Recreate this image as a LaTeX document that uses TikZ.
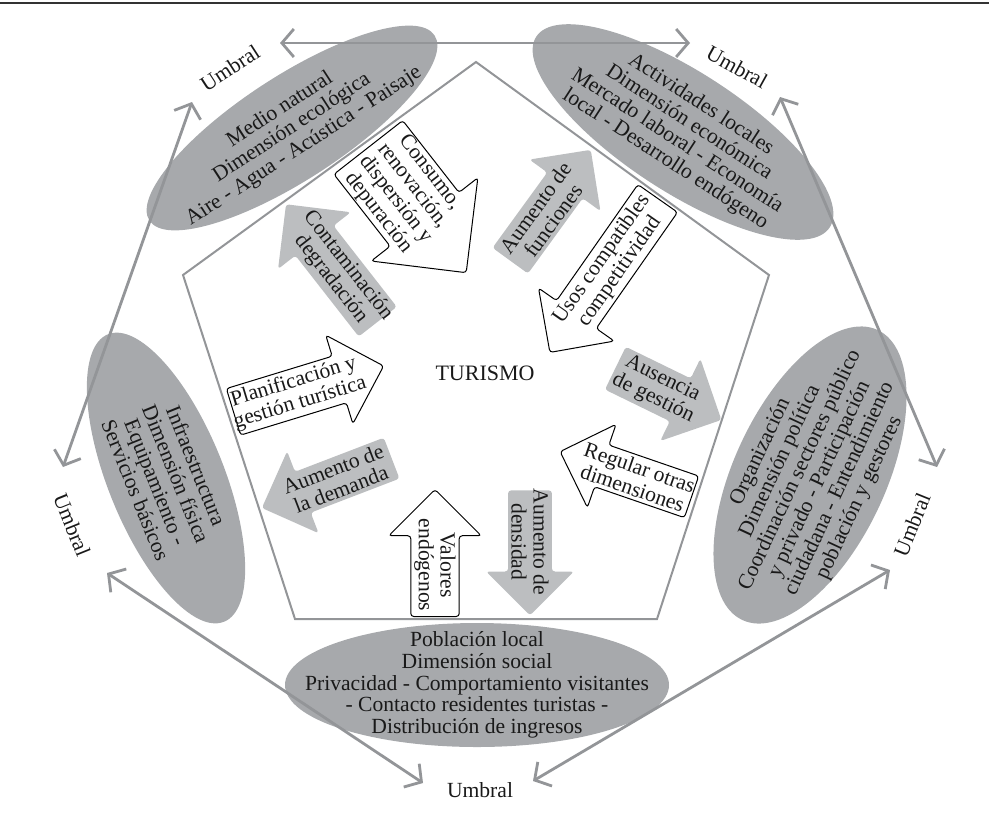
\documentclass[tikz,border=0pt]{standalone}
\usepackage{fontspec}
\setmainfont{Liberation Serif}
\usetikzlibrary{shapes.geometric,shapes.arrows,arrows.meta}
\definecolor{elgray}{HTML}{A7A9AC}
\definecolor{argray}{HTML}{BCBEC0}
\definecolor{lngray}{HTML}{939598}
\begin{document}
\begin{tikzpicture}[x=0.5pt,y=-0.5pt,
  txt/.style={font=\fontsize{10.8}{10.9}\selectfont, text=black!90},
  dim/.style={txt, ellipse, fill=elgray, align=center, inner xsep=-30pt, inner ysep=-14pt},
  flow/.style={txt, single arrow, single arrow head extend=11pt, rounded corners=1.5pt,
    align=center, anchor=tail, inner ysep=1.5pt, inner xsep=-2pt},
  answer/.style={flow, draw=black, line width=0.5pt, fill=white},
  impact/.style={flow, fill=argray},
  rev/.style={shape border rotate=180},
  lim/.style={draw=lngray, line width=1.4pt,
    {Straight Barb[length=6pt,width=14pt]}-{Straight Barb[length=6pt,width=14pt]}}
]
\useasboundingbox (0,0) rectangle (989,814);
\draw[line width=1pt, black!80] (0,3) -- (989,3);

% dimensiones
\node[dim, rotate=33, minimum width=170pt, minimum height=52pt] (nat) at (292,128)
  {Medio natural\\Dimensión ecológica\\Aire - Agua - Acústica - Paisaje};
\node[dim, rotate=-33, minimum width=175pt, minimum height=60pt] (act) at (683,132)
  {Actividades locales\\Dimensión económica\\Mercado laboral - Economía\\local - Desarrollo endógeno};
\node[dim, rotate=-68, minimum width=155pt, minimum height=58pt] (inf) at (166,478)
  {Infraestructura\\Dimensión física\\Equipamiento -\\Servicios básicos};
\node[dim, rotate=65, minimum width=160pt, minimum height=76pt] (org) at (810,475)
  {Organización\\Dimensión política\\Coordinación sectores público\\y privado - Participación\\ciudadana - Entendimiento\\población y gestores};
\node[dim, minimum width=192pt, minimum height=62pt] (pob) at (477,685)
  {Población local\\Dimensión social\\Privacidad - Comportamiento visitantes\\- Contacto residentes turistas -\\Distribución de ingresos};

% pentagono
\draw[draw=lngray, line width=1pt] (476,62) -- (769,275) -- (657,619) -- (295,619) -- (183,275) -- cycle;

% umbrales
\node[txt, rotate=33] (u1) at (230,68) {Umbral};
\node[txt, rotate=-29] (u2) at (737,67) {Umbral};
\node[txt, rotate=68] (u3) at (912,525) {Umbral};
\node[txt] (u4) at (480,790) {Umbral};
\node[txt, rotate=-68] (u5) at (72,525) {Umbral};

\coordinate (a1) at (280,43);  \coordinate (a2) at (690,43);
\coordinate (b1) at (780,97);  \coordinate (b2) at (937,467);
\coordinate (c1) at (890,570); \coordinate (c2) at (533,781);
\coordinate (d1) at (423,783); \coordinate (d2) at (107,573);
\coordinate (e1) at (63,467);  \coordinate (e2) at (192,102);
\draw[lim] (a1) -- (a2);
\draw[lim] (b1) -- (b2);
\draw[lim] (c1) -- (c2);
\draw[lim] (d1) -- (d2);
\draw[lim] (e1) -- (e2);

\node[txt, font=\fontsize{11}{12}\selectfont] (tur) at (485,373) {TURISMO};

% flechas
\node[answer, rotate=-52, minimum height=79.5pt, single arrow head extend=12pt, inner ysep=0.5pt] (cons) at (368,147)
  {Consumo,\\renovación,\\dispersión y\\depuración};
\node[impact, rev, rotate=-52, minimum height=74.5pt] (cont) at (378,322) {Contaminación\\degradación};
\node[impact, rotate=54, minimum height=68.5pt] (func) at (510,261) {Aumento de\\funciones};
\node[answer, rev, rotate=55, minimum height=94pt] (usos) at (658,198) {Usos compatibles\\competitividad};
\node[impact, rotate=-26, minimum height=59pt] (ause) at (615,368) {Ausencia\\de gestión};
\node[answer, rev, rotate=-19, minimum height=69.5pt] (regu) at (692,497) {Regular otras\\dimensiones};
\node[impact, rotate=-90, minimum height=62.5pt] (dens) at (530,490) {Aumento de\\densidad};
\node[answer, rev, rotate=-90, minimum height=63.5pt] (valo) at (435,617) {Valores\\endógenos};
\node[impact, rev, rotate=21, minimum height=69.5pt] (dema) at (392,458) {Aumento de\\la demanda};
\node[answer, rotate=17, minimum height=78.5pt] (plan) at (233,412) {Planificación y\\gestión turística};
\end{tikzpicture}
\end{document}
